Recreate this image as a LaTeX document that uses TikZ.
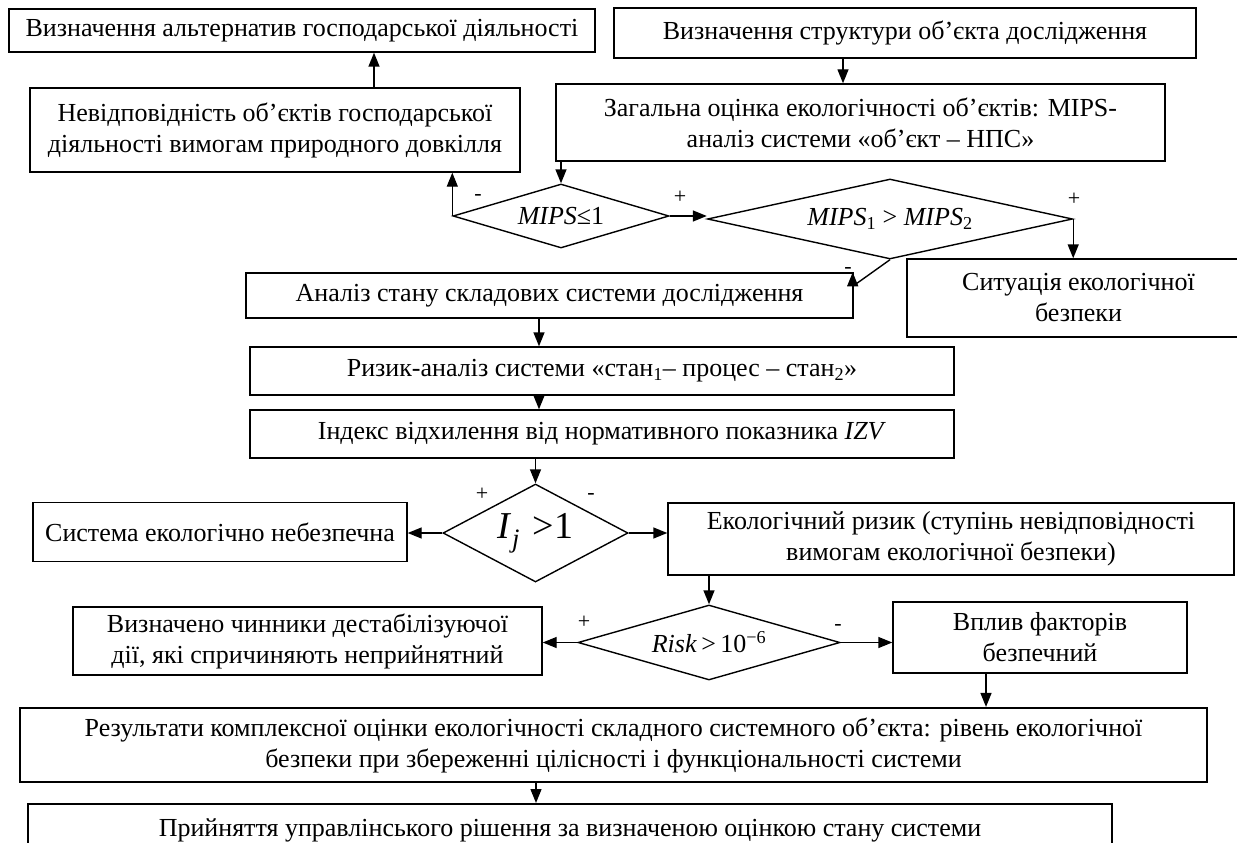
\documentclass[tikz,border=0pt]{standalone}
\usepackage{fontspec}
\setmainfont{Liberation Serif}
\usetikzlibrary{shapes.geometric,arrows.meta}
\begin{document}
\begin{tikzpicture}[x=1pt,y=-1pt,
  box/.style={draw,line width=1.4pt,inner sep=0pt,align=center,font=\fontsize{26}{31}\selectfont},
  dia/.style={draw,diamond,line width=1.4pt,inner sep=0pt,font=\fontsize{26}{31}\selectfont},
  arr/.style={line width=1.4pt,-{Triangle[length=14pt,width=11pt]}},
  ln/.style={line width=1.4pt},
  lab/.style={font=\fontsize{22}{22}\selectfont,inner sep=0pt}]
\useasboundingbox[fill=white] (0,0) rectangle (1237,843);

\node[box,minimum width=586pt,minimum height=43pt] (A) at (302,30.5) {Визначення альтернатив господарської діяльності};
\node[box,minimum width=582pt,minimum height=50pt] (B) at (905,33) {Визначення структури об’єкта дослідження};
\node[box,minimum width=609pt,minimum height=77pt] (C) at (860.5,122.5) {Загальна оцінка екологічності об’єктів: MIPS-\\аналіз системи «об’єкт – НПС»};
\node[box,minimum width=490pt,minimum height=84pt] (D) at (275,130) {Невідповідність об’єктів господарської\\діяльності вимогам природного довкілля};

\node[dia,aspect=3.375,minimum width=216pt,minimum height=64pt] (E) at (561,216) {\textit{MIPS}≤1};
\node[dia,aspect=4.56,minimum width=365pt,minimum height=80pt] (F) at (890,219) {\textit{MIPS}\textsubscript{1} > \textit{MIPS}\textsubscript{2}};

\node[box,minimum width=343pt,minimum height=78pt] (S) at (1078.5,298) {Ситуація екологічної\\безпеки};
\node[box,minimum width=607pt,minimum height=45pt] (An) at (549.5,295.5) {Аналіз стану складових системи дослідження};
\node[box,minimum width=704pt,minimum height=48pt] (R) at (602,371) {Ризик-аналіз системи «стан\textsubscript{1}– процес – стан\textsubscript{2}»};
\node[box,minimum width=704pt,minimum height=48pt] (I) at (602,434) {Індекс відхилення від нормативного показника \textit{IZV}};

\node[dia,aspect=1.89,minimum width=185pt,minimum height=98pt,font=\fontsize{38}{38}\selectfont] (G) at (535.5,533) {\textit{I}\textsubscript{\textit{j}}\,\,>1};
\node[box,minimum width=374pt,minimum height=59pt] (Sys) at (220,532) {Система екологічно небезпечна};
\node[box,minimum width=566pt,minimum height=72pt] (Ek) at (951,539) {Екологічний ризик (ступінь невідповідності\\вимогам екологічної безпеки)};

\node[dia,aspect=3.5,minimum width=262pt,minimum height=75pt] (H) at (709,642.5) {\textit{Risk}\,>\,10\textsuperscript{−6}};
\node[box,minimum width=469pt,minimum height=68pt] (Viz) at (307.5,641) {Визначено чинники дестабілізуючої\\дії, які спричиняють неприйнятний};
\node[box,minimum width=294pt,minimum height=71pt] (Vp) at (1040,637.5) {Вплив факторів\\безпечний};

\node[box,line width=2.2pt,minimum width=1187pt,minimum height=74pt] (Res) at (613.5,745) {Результати комплексної оцінки екологічності складного системного об’єкта: рівень екологічної\\безпеки при збереженні цілісності і функціональності системи};
\node[box,line width=2pt,minimum width=1084pt,minimum height=66pt] (Pr) at (570,837) {\raisebox{18pt}{Прийняття управлінського рішення за визначеною оцінкою стану системи}};

% connectors
\draw[arr] ([xshift=-62pt]B.south) -- ([xshift=-62pt]B.south |- C.north);
\draw[arr] (E.north |- C.south) -- (E.north);
\draw[arr] (E.west) -- (E.west |- D.south);
\draw[arr] ([xshift=99pt]D.north) -- ([xshift=99pt]D.north |- A.south);
\draw[arr] (E.east) -- (E.east -| F.west);
\draw[arr] (F.east) -- (F.east |- S.north);
\coordinate (k) at ([xshift=-1pt,yshift=-14pt]An.north east);
\draw[ln] (F.south) -- (k);
\draw[arr] (k) -- ([xshift=-1pt]An.north east);
\draw[arr] ([xshift=-10.5pt]An.south) -- ([xshift=-10.5pt]An.south |- R.north);
\draw[arr] ([xshift=-63pt]R.south) -- ([xshift=-63pt]R.south |- I.north);
\draw[arr] (G.north |- I.south) -- (G.north);
\draw[arr] (G.west) -- (G.west -| Sys.east);
\draw[arr] (G.east) -- (G.east -| Ek.west);
\draw[arr] (H.north |- Ek.south) -- (H.north);
\draw[arr] (H.west) -- (H.west -| Viz.east);
\draw[arr] (H.east) -- (H.east -| Vp.west);
\draw[arr] ([xshift=-54pt]Vp.south) -- ([xshift=-54pt]Vp.south |- Res.north);
\draw[arr] ([xshift=-77.5pt]Res.south) -- ([xshift=-77.5pt]Res.south |- Pr.north);

% branch labels
\node[lab] (l1) at (478,197) {-};
\node[lab] (l2) at (680,197) {+};
\node[lab] (l3) at (1074,199) {+};
\node[lab] (l4) at (848,270) {-};
\node[lab] (l5) at (482,494) {+};
\node[lab] (l6) at (591,496) {-};
\node[lab] (l7) at (584,622) {+};
\node[lab] (l8) at (838,627) {-};
\end{tikzpicture}
\end{document}
